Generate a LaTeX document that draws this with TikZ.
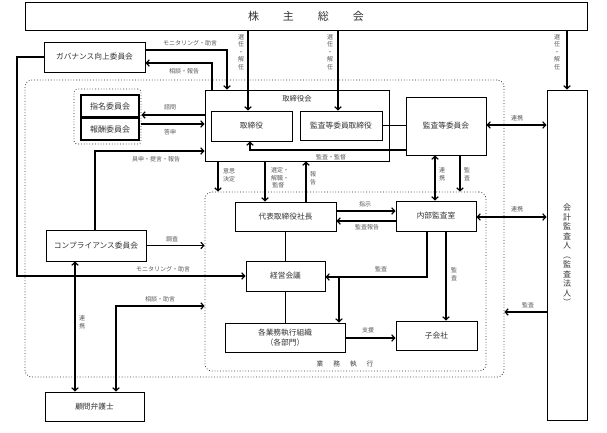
\documentclass[tikz,border=0pt]{standalone}
\usepackage{fontspec}
\setmainfont{Noto Sans CJK JP}
\usetikzlibrary{arrows.meta,calc}
\begin{document}
\begin{tikzpicture}[x=1pt,y=-1pt,
 sz/.style 2 args={minimum width=#1pt, minimum height=#2pt},
 box/.style={draw=black, line width=1pt, inner sep=0pt, text=black!80, font=\fontsize{7.7}{9.5}\selectfont, align=center},
 dotbox/.style={draw=black!80, dotted, line width=0.8pt, rounded corners=7pt, inner sep=0pt},
 conn/.style={line width=1.2pt, draw=black},
 arr/.style={conn, -{Straight Barb[length=3pt,width=6.5pt]}},
 darr/.style={conn, {Straight Barb[length=3pt,width=6.5pt]}-{Straight Barb[length=3pt,width=6.5pt]}},
 lab/.style={text=black!65, font=\fontsize{6}{7.6}\selectfont, inner sep=0pt, align=center},
]
\fill[white] (0,0) rectangle (607,432);
\useasboundingbox (0,0) rectangle (607,432);

% containers
\node[dotbox, sz={479}{297}] (outer) at (264.5,228.5) {};
\node[dotbox, sz={281}{179}] (inner) at (345.5,281.5) {};
\node[dotbox, sz={67}{55}, rounded corners=3pt] (grp) at (107.5,116.5) {};

% boxes
\node[box, sz={562}{28}, font=\fontsize{11}{12}\selectfont] (kabu) at (306,16) {株\hspace{24pt}主\hspace{24pt}総\hspace{24pt}会};
\node[box, sz={101}{30}] (gov) at (94.5,57) {ガバナンス向上委員会};
\node[box, sz={58}{22}, line width=1.4pt, font=\fontsize{8}{9}\selectfont] (shimei) at (110,106) {指名委員会};
\node[box, sz={58}{22}, line width=1.4pt, font=\fontsize{8}{9}\selectfont] (hoshu) at (110,129) {報酬委員会};
\node[box, sz={184}{71}] (torikai) at (297,125.5) {};
\node[lab, font=\fontsize{7.3}{8}\selectfont, text=black!80] (torikailab) at (297,99) {取締役会};
\node[box, sz={81}{30}] (tori) at (251.5,126) {取締役};
\node[box, sz={82}{29}] (kansatori) at (341,125.5) {監査等委員取締役};
\node[box, sz={80}{58}] (kansa) at (446,126) {監査等委員会};
\node[box, sz={40}{330}, font=\fontsize{8}{9.5}\selectfont] (kaikei) at (567,255) {会\\計\\監\\査\\人\\︵\\監\\査\\法\\人\\︶};
\node[box, sz={101}{29}] (daihyo) at (285.5,216.5) {代表取締役社長};
\node[box, sz={80}{30}] (naibu) at (436,216) {内部監査室};
\node[box, sz={79}{30}] (keiei) at (285.5,276) {経営会議};
\node[box, sz={120}{29}] (kakugyo) at (285,337.5) {各業務執行組織\\（各部門）};
\node[box, sz={81}{29}] (kogaisha) at (436.5,335.5) {子会社};
\node[box, sz={100}{31}] (comp) at (96,245.5) {コンプライアンス委員会};
\node[box, sz={99}{29}] (komon) at (94.5,406.5) {顧問弁護士};
\node[lab, font=\fontsize{6.7}{8}\selectfont, text=black!75] (gyomu) at (345,364) {業\hspace{10pt}務\hspace{10pt}執\hspace{10pt}行};

% helper coordinates
\coordinate (x248) at (248,0);
\coordinate (x338) at (338,0);
\coordinate (g1) at (227,50);
\coordinate (g2) at (212,63);
\coordinate (g3) at (17,57);
\coordinate (g4) at (17,276);
\coordinate (s1) at (0,115);
\coordinate (s2) at (0,124);
\coordinate (c2) at (95,151);
\coordinate (c3) at (75,0);
\coordinate (c4) at (116,306);
\coordinate (c5) at (218,0);
\coordinate (c6) at (265,0);
\coordinate (c7) at (306,0);
\coordinate (c8) at (250,150);
\coordinate (c9) at (0,125);
\coordinate (c10) at (435,0);
\coordinate (c11) at (460,0);
\coordinate (c12) at (0,211);
\coordinate (c13) at (0,221);
\coordinate (c14) at (0,217);
\coordinate (c15) at (427,277);
\coordinate (c16) at (339,277);
\coordinate (c17) at (446,0);
\coordinate (c18) at (0,338);
\coordinate (c19) at (0,312);

% connectors
\draw[arr] (kabu.south -| x248) -- (tori.north -| x248);
\draw[arr] (kabu.south -| x338) -- (kansatori.north -| x338);
\draw[arr] (kabu.south -| kaikei.north) -- (kaikei.north);
\draw[arr] (gov.east |- g1) -- (g1) -- (torikai.north -| g1);
\draw[arr] (torikai.north -| g2) -- (g2) -- (gov.east |- g2);
\draw[arr] (gov.west) -- (g3) -- (g4) -- (keiei.west |- g4);
\draw[arr] (torikai.west |- s1) -- (grp.east |- s1);
\draw[arr] (grp.east |- s2) -- (torikai.west |- s2);
\draw[arr] (comp.north -| c2) -- (c2) -- (torikai.west |- c2);
\draw[arr] (comp.east) -- (inner.west |- comp.east);
\draw[darr] (comp.south -| c3) -- (komon.north -| c3);
\draw[darr] (komon.north -| c4) -- (c4) -- (inner.west |- c4);
\draw[arr] (torikai.south -| c5) -- (inner.north -| c5);
\draw[arr] (torikai.south -| c6) -- (daihyo.north -| c6);
\draw[arr] (daihyo.north -| c7) -- (torikai.south -| c7);
\draw[conn] (kansatori.east) -- (kansa.west |- kansatori.east);
\draw[arr] (kansa.west |- c8) -- (c8) -- (tori.south -| c8);
\draw[darr] (kansa.east |- c9) -- (kaikei.west |- c9);
\draw[darr] (kansa.south -| c10) -- (naibu.north -| c10);
\draw[arr] (kansa.south -| c11) -- (inner.north -| c11);
\draw[arr] (daihyo.east |- c12) -- (naibu.west |- c12);
\draw[arr] (naibu.west |- c13) -- (daihyo.east |- c13);
\draw[darr] (naibu.east |- c14) -- (kaikei.west |- c14);
\draw[arr] (naibu.south -| c15) -- (c15) -- (keiei.east |- c15);
\draw[arr] (c16) -- (kakugyo.north -| c16);
\draw[arr] (naibu.south -| c17) -- (kogaisha.north -| c17);
\draw[conn] (daihyo.south) -- (keiei.north);
\draw[conn] (keiei.south) -- (kakugyo.north -| keiei.south);
\draw[arr] (kakugyo.east |- c18) -- (kogaisha.west |- c18);
\draw[arr] (kaikei.west |- c19) -- (outer.east |- c19);

% labels
\node[lab] (l1) at (241,52) {選\\任\\・\\解\\任};
\node[lab] (l2) at (330,52) {選\\任\\・\\解\\任};
\node[lab] (l3) at (557,52) {選\\任\\・\\解\\任};
\node[lab] (l4) at (190,43) {モニタリング・助言};
\node[lab] (l5) at (184,71) {相談・報告};
\node[lab] (l6) at (163,269) {モニタリング・助言};
\node[lab] (l7) at (170,107) {諮問};
\node[lab] (l8) at (170,132) {答申};
\node[lab] (l9) at (156,159) {具申・提言・報告};
\node[lab] (l10) at (172,239) {調査};
\node[lab] (l11) at (82,322) {連\\携};
\node[lab] (l12) at (160,299) {相談・助言};
\node[lab] (l13) at (229,175) {意思\\決定};
\node[lab, align=left] (l14) at (280,178) {選定・\\解職・\\\ 監督};
\node[lab] (l15) at (313,178) {報\\告};
\node[lab] (l16) at (331,157) {監査・監督};
\node[lab] (l17) at (517,118) {連携};
\node[lab] (l18) at (442,174) {連\\携};
\node[lab] (l19) at (467,174) {監\\査};
\node[lab] (l20) at (365,204) {指示};
\node[lab] (l21) at (367,227) {監査報告};
\node[lab] (l22) at (517,209) {連携};
\node[lab] (l23) at (381,269) {監査};
\node[lab] (l24) at (454,274) {監\\査};
\node[lab] (l25) at (368,330) {支援};
\node[lab] (l26) at (528,305) {監査};
\end{tikzpicture}
\end{document}
